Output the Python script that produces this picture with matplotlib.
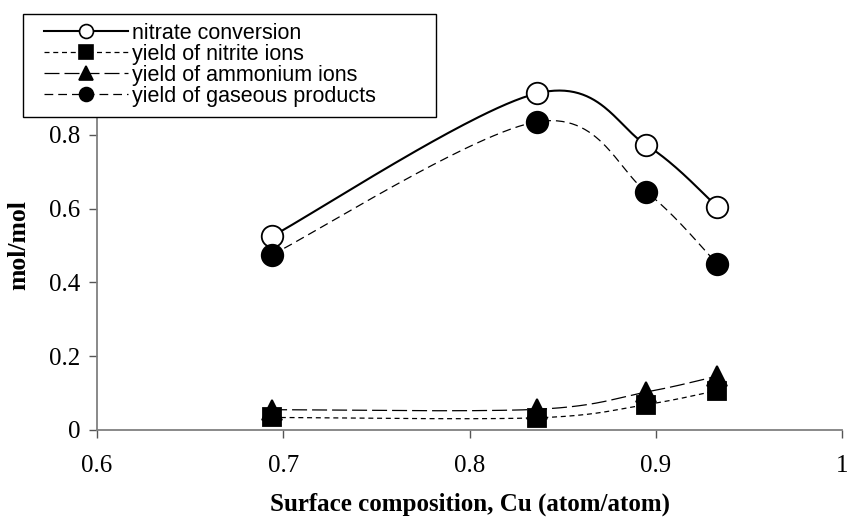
import numpy as np
import matplotlib
matplotlib.use("Agg")
import matplotlib.pyplot as plt
from matplotlib.lines import Line2D
from matplotlib.patches import Rectangle

# Cu surface composition of the catalysts and the measured results (mol/mol)
cu_surface = [0.694, 0.836, 0.895, 0.933]
nitrate_conversion = [0.525, 0.912, 0.772, 0.605]
nitrite_yield = [0.034, 0.033, 0.069, 0.107]
ammonium_yield = [0.055, 0.056, 0.103, 0.146]
gaseous_yield = [0.475, 0.835, 0.645, 0.450]

series_labels = ["nitrate conversion", "yield of nitrite ions",
                 "yield of ammonium ions", "yield of gaseous products"]
x_ticks = [0.6, 0.7, 0.8, 0.9, 1.0]
y_ticks = [0.0, 0.2, 0.4, 0.6, 0.8, 1.0]


def smooth(xs, ys, n=60):
    # spreadsheet-style smoothed line: cubic Bezier segments with Catmull-Rom tangents
    pts = np.column_stack([xs, ys]).astype(float)
    ext = np.vstack([pts[0], pts, pts[-1]])
    t = np.linspace(0, 1, n)[:, None]
    out = []
    for i in range(len(pts) - 1):
        p0, p1, p2, p3 = ext[i], ext[i + 1], ext[i + 2], ext[i + 3]
        c1 = p1 + (p2 - p0) / 6.0
        c2 = p2 - (p3 - p1) / 6.0
        seg = ((1 - t) ** 3) * p1 + 3 * ((1 - t) ** 2) * t * c1 + 3 * (1 - t) * t ** 2 * c2 + t ** 3 * p2
        out.append(seg if i == 0 else seg[1:])
    seg = np.vstack(out)
    return seg[:, 0], seg[:, 1]


W, H = 848, 526
fig = plt.figure(figsize=(W / 100, H / 100), dpi=100)
ax = fig.add_axes([97 / W, 1 - 430 / H, (842 - 97) / W, (430 - 61) / H])

styles = [
    dict(ls="-", lw=1.5, marker="o", mfc="white", ms=15.5, lms=10),
    dict(ls=(0, (4, 3)), lw=0.9, marker="s", mfc="black", ms=13, lms=9.5),
    dict(ls=(0, (12, 4)), lw=0.9, marker="^", mfc="black", ms=14, lms=10.5),
    dict(ls=(0, (7, 4)), lw=0.9, marker="o", mfc="black", ms=15.5, lms=10),
]
data = [nitrate_conversion, nitrite_yield, ammonium_yield, gaseous_yield]

handles = []
for ys, st, lab in zip(data, styles, series_labels):
    sx, sy = smooth(cu_surface, ys)
    ax.plot(sx, sy, color="black", ls=st["ls"], lw=st["lw"], zorder=2)
    ax.plot(cu_surface, ys, ls="none", marker=st["marker"], ms=st["ms"],
            mfc=st["mfc"], mec="black", mew=1.3, zorder=3, clip_on=False)
    handles.append(Line2D([], [], color="black", ls=st["ls"], lw=st["lw"],
                          marker=st["marker"], ms=st["lms"], mfc=st["mfc"],
                          mec="black", mew=1.2))

ax.set_xlim(0.6, 1.0)
ax.set_ylim(0.0, 1.0)
ax.set_xticks(x_ticks)
ax.set_xticklabels([f"{v:g}" for v in x_ticks])
ax.set_yticks(y_ticks)
ax.set_yticklabels([f"{v:g}" for v in y_ticks])

for side in ("top", "right"):
    ax.spines[side].set_visible(False)
for side in ("left", "bottom"):
    ax.spines[side].set_color("#808080")
    ax.spines[side].set_linewidth(1.3)
ax.tick_params(direction="out", length=6, width=1.0, color="#555555",
               labelsize=18, pad=6)
for lbl in ax.get_xticklabels() + ax.get_yticklabels():
    lbl.set_family("Liberation Serif")
ax.tick_params(axis="x", pad=12)

ax.set_xlabel("Surface composition, Cu (atom/atom)", family="Liberation Serif",
              fontweight="bold", fontsize=18)
ax.set_ylabel("mol/mol", family="Liberation Serif", fontweight="bold", fontsize=18.5)
ax.xaxis.set_label_coords(0.5, -0.17)
ax.yaxis.set_label_coords(-0.09, 0.5)

# legend box: white panel with a black border, entries placed inside it
fig.patches.append(Rectangle((23 / W, 1 - 117 / H), (436 - 23) / W, (117 - 14) / H,
                             transform=fig.transFigure, facecolor="white",
                             edgecolor="black", lw=1.0, zorder=4))
leg = fig.legend(handles, series_labels, loc="upper left",
                 bbox_to_anchor=(44 / W, 1 - 23 / H), bbox_transform=fig.transFigure,
                 borderaxespad=0, borderpad=0, frameon=False,
                 prop={"family": "Liberation Sans", "size": 15.5},
                 handlelength=3.9, handletextpad=0.2, labelspacing=0.0)
leg.set_zorder(5)

fig.savefig("out.png", dpi=100)
